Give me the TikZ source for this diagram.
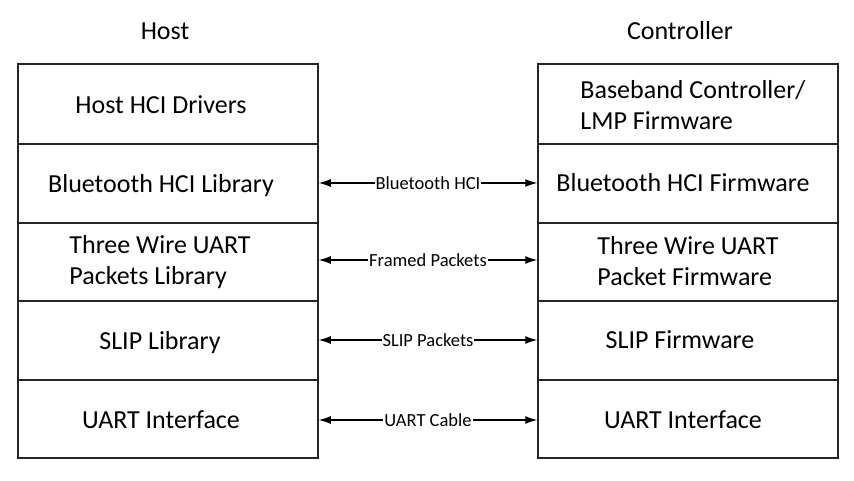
\documentclass[tikz,border=0pt]{standalone}
\usepackage{fontspec}
\setmainfont{Carlito}
\usetikzlibrary{arrows.meta}
\begin{document}
\begin{tikzpicture}[x=1pt,y=-1pt,
  layer/.style={draw=black!85,line width=1.5pt,rectangle,minimum width=300pt,inner sep=0pt},
  lbl/.style={font=\fontsize{26}{31}\selectfont,align=left,inner sep=0pt},
  ttl/.style={font=\fontsize{26}{31}\selectfont,inner sep=0pt},
  link/.style={line width=1.2pt,{Latex[length=12pt,width=8pt]}-{Latex[length=12pt,width=8pt]}},
  conn/.style={font=\fontsize{18.5}{22}\selectfont,fill=white,inner sep=1pt}]
\useasboundingbox (0,0) rectangle (854,481);
\fill[white] (0,0) rectangle (854,481);
% titles
\node[ttl] (host) at (165,31) {Host};
\node[ttl] (ctrl) at (680,31) {Controller};
% left stack
\node[layer,minimum height=80pt] (L1) at (168,104) {};
\node[layer,minimum height=79pt] (L2) at (168,183.5) {};
\node[layer,minimum height=78pt] (L3) at (168,262) {};
\node[layer,minimum height=79pt] (L4) at (168,340.5) {};
\node[layer,minimum height=78pt] (L5) at (168,419) {};
% right stack
\node[layer,minimum height=80pt] (R1) at (688,104) {};
\node[layer,minimum height=79pt] (R2) at (688,183.5) {};
\node[layer,minimum height=78pt] (R3) at (688,262) {};
\node[layer,minimum height=79pt] (R4) at (688,340.5) {};
\node[layer,minimum height=78pt] (R5) at (688,419) {};
% left texts
\node[lbl] (tL1) at (161,105) {Host HCI Drivers};
\node[lbl] (tL2) at (161,185.5) {Bluetooth HCI Library};
\node[lbl] (tL3) at (160,262.5) {Three Wire UART\\Packets Library};
\node[lbl] (tL4) at (160,342.5) {SLIP Library};
\node[lbl] (tL5) at (161,420) {UART Interface};
% right texts
\node[lbl] (tR1) at (693,105.5) {Baseband Controller/\\LMP Firmware};
\node[lbl] (tR2) at (683,183) {Bluetooth HCI Firmware};
\node[lbl] (tR3) at (688,261) {Three Wire UART\\Packet Firmware};
\node[lbl] (tR4) at (680,340) {SLIP Firmware};
\node[lbl] (tR5) at (683,420) {UART Interface};
% connectors
\draw[link] (L2.east |- 0,183) -- node[conn] {Bluetooth HCI} (R2.west |- 0,183);
\draw[link] (L3.east |- 0,260) -- node[conn] {Framed Packets} (R3.west |- 0,260);
\draw[link] (L4.east |- 0,340) -- node[conn] {SLIP Packets} (R4.west |- 0,340);
\draw[link] (L5.east |- 0,420) -- node[conn] {UART Cable} (R5.west |- 0,420);
\end{tikzpicture}
\end{document}
